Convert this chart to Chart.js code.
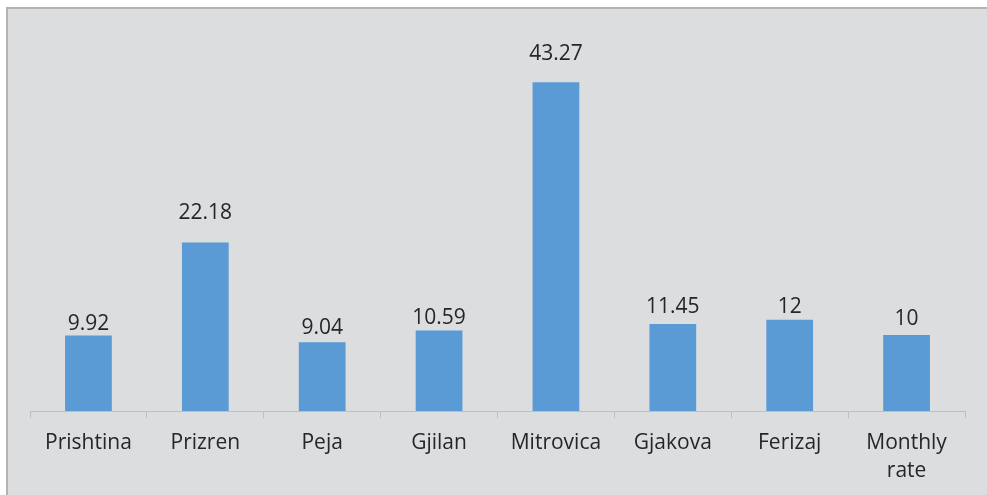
<!DOCTYPE html>
<html><head><meta charset="utf-8">
<script src="https://cdn.jsdelivr.net/npm/chart.js@4/dist/chart.umd.min.js"></script>
<style>html,body{margin:0;padding:0;background:#fff;}#wrap{width:987px;height:495px;position:relative;}</style>
</head><body><div id="wrap"><canvas id="c" width="987" height="495"></canvas></div>
<script>
const categories = ["Prishtina","Prizren","Peja","Gjilan","Mitrovica","Gjakova","Ferizaj",["Monthly","rate"]];
const values = [9.92,22.18,9.04,10.59,43.27,11.45,12,10];
const valueLabels = ["9.92","22.18","9.04","10.59","43.27","11.45","12","10"];

const bgPlugin = {
  id:'bg',
  beforeDraw(chart){
    const ctx = chart.ctx;
    ctx.save();
    ctx.fillStyle = '#ffffff';
    ctx.fillRect(0,0,chart.width,chart.height);
    ctx.fillStyle = '#dcdddf';
    ctx.fillRect(7,8,chart.width,chart.height);
    ctx.strokeStyle = '#b3b3b3';
    ctx.lineWidth = 2;
    ctx.beginPath();
    ctx.moveTo(7,chart.height+2);
    ctx.lineTo(7,8);
    ctx.lineTo(chart.width+2,8);
    ctx.stroke();
    ctx.restore();
  }
};
const labelPlugin = {
  id:'vals',
  afterDatasetsDraw(chart, args, opts){
    const ctx = chart.ctx;
    const meta = chart.getDatasetMeta(0);
    ctx.save();
    ctx.font = '21px "Open Sans", sans-serif';
    ctx.fillStyle = '#262626';
    ctx.textAlign = 'center';
    ctx.textBaseline = 'middle';
    meta.data.forEach((bar,i)=>{
      ctx.fillText(valueLabels[i], bar.x, bar.y - opts.gaps[i]);
    });
    ctx.restore();
  }
};

new Chart(document.getElementById('c'), {
  type:'bar',
  data:{labels:categories, datasets:[{data:values, backgroundColor:'#5b9bd5', borderWidth:0, categoryPercentage:0.8, barPercentage:0.5}]},
  options:{
    responsive:false, animation:false, devicePixelRatio:1,
    layout:{padding:{left:30,right:22,top:31,bottom:0}},
    plugins:{legend:{display:false}, tooltip:{enabled:false}, vals:{gaps:[12,29,14,13,28,17,13,16]}},
    scales:{
      y:{display:false, min:0, max:50},
      x:{
        offset:true,
        grid:{display:true, drawOnChartArea:false, drawTicks:true, tickLength:7, color:'#bfbfbf', offset:true},
        border:{display:true, color:'#bfbfbf', width:1},
        ticks:{color:'#262626', font:{family:'"Open Sans", sans-serif', size:21, lineHeight:1.33}, padding:11, maxRotation:0, autoSkip:false},
        afterFit(scale){ scale.height = 84; }
      }
    }
  },
  plugins:[bgPlugin,labelPlugin]
});
</script></body></html>
